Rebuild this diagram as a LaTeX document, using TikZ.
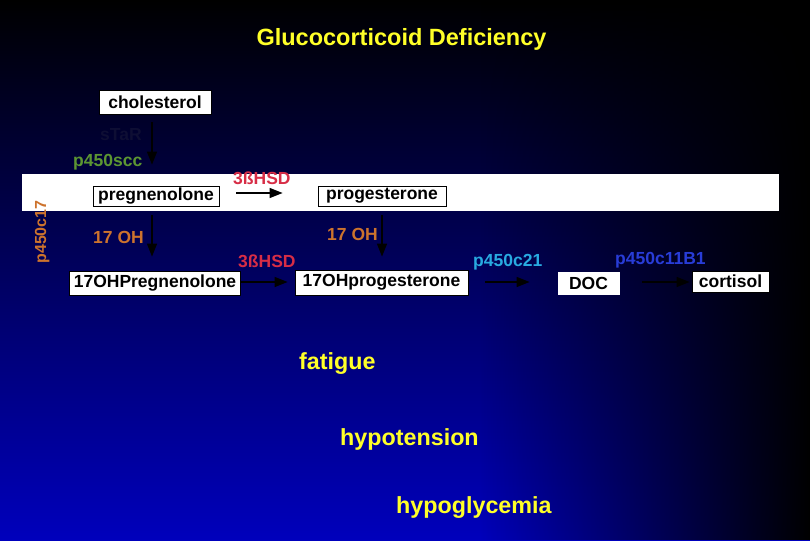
\documentclass[tikz,border=0pt]{standalone}
\usepackage{fontspec}
\setmainfont{Liberation Sans}
\usetikzlibrary{arrows.meta,fadings}
\definecolor{bgblue}{RGB}{0,0,188}
\definecolor{bgmid}{RGB}{0,0,140}
\definecolor{ttlyellow}{RGB}{255,255,40}
\definecolor{starcol}{RGB}{14,14,52}
\definecolor{scccol}{RGB}{92,150,50}
\definecolor{ohcol}{RGB}{205,115,45}
\definecolor{hsdcol}{RGB}{215,45,70}
\definecolor{c21col}{RGB}{40,170,225}
\definecolor{c11col}{RGB}{40,60,215}
\tikzfading[name=rightdark, left color=transparent!100, right color=transparent!0]
\tikzset{
  box/.style={draw=black, fill=white, line width=0.8pt, inner sep=0pt, font=\fontsize{17.5}{20}\selectfont\bfseries, text=black},
  lbl/.style={inner sep=0pt, anchor=base west, font=\fontsize{17.5}{20}\selectfont\bfseries},
  sym/.style={inner sep=0pt, anchor=base west, text=ttlyellow, font=\fontsize{23.3}{27}\selectfont\bfseries},
  arr/.style={line width=1.5pt, -{Triangle[length=13pt,width=10pt]}}
}
\begin{document}
\begin{tikzpicture}[x=1pt,y=-1pt]
\useasboundingbox (0,0) rectangle (810,540);
\shade[top color=black, middle color=bgmid, bottom color=bgblue] (0,0) rectangle (810,540);
\fill[black, path fading=rightdark] (480,0) rectangle (810,540);
\fill[white] (22,174) rectangle (779,211);
% title
\node[inner sep=0pt, text=ttlyellow, font=\fontsize{23.5}{26}\selectfont\bfseries] (title) at (401.5,39) {Glucocorticoid Deficiency};
% boxes
\node[box, minimum width=112pt, minimum height=24pt] (chol) at (155,102) {cholesterol};
\node[box, minimum width=126pt, minimum height=20pt] (preg) at (156,196) {pregnenolone};
\node[box, minimum width=128pt, minimum height=20pt] (prog) at (382,196) {progesterone};
\node[box, minimum width=171pt, minimum height=24pt] (ohpreg) at (155,283) {17OHPregnenolone};
\node[box, minimum width=173pt, minimum height=25pt] (ohprog) at (381.5,282.5) {17OHprogesterone};
\node[box, draw=white, minimum width=61pt, minimum height=22pt, text depth=-2pt] (doc) at (588.5,283) {DOC};
\node[box, minimum width=77pt, minimum height=21pt] (cort) at (730.5,281.5) {cortisol};
% labels
\node[lbl, text=starcol] (star) at (100,141) {sTaR};
\node[lbl, text=scccol] (scc) at (73,167) {p450scc};
\node[lbl, text=hsdcol] (hsd1) at (233,184) {3ßHSD};
\node[lbl, text=ohcol, anchor=base, rotate=90, font=\fontsize{16}{18}\selectfont\bfseries] (c17) at (46,232) {p450c17};
\node[lbl, text=ohcol] (oh1) at (93,243) {17 OH};
\node[lbl, text=ohcol] (oh2) at (327,240) {17 OH};
\node[lbl, text=hsdcol] (hsd2) at (238,267) {3ßHSD};
\node[lbl, text=c21col] (c21) at (473,266) {p450c21};
\node[lbl, text=c11col] (c11) at (615,264) {p450c11B1};
% arrows
\draw[arr, shorten <=8pt, shorten >=21pt] ([xshift=-3pt]chol.south) -- ([xshift=-4pt]preg.north);
\draw[arr, shorten <=9pt, shorten >=14pt] ([xshift=-4pt]preg.south) -- ([xshift=-3pt]ohpreg.north);
\draw[arr, shorten <=9pt, shorten >=13pt] (prog.south) -- ([xshift=0.5pt]ohprog.north);
\draw[arr, shorten <=17pt, shorten >=35pt] ([yshift=3pt]preg.east) -- ([yshift=3pt]prog.west);
\draw[arr, shorten <=0pt, shorten >=7pt] ([yshift=1pt]ohpreg.east) -- ([yshift=0.5pt]ohprog.west);
\draw[arr, shorten <=17pt, shorten >=28pt] ([yshift=0.5pt]ohprog.east) -- ([yshift=1pt]doc.west);
\draw[arr, shorten <=23pt, shorten >=2pt] ([yshift=1pt]doc.east) -- ([yshift=-0.5pt]cort.west);
% symptoms
\node[sym] (fat) at (299,369) {fatigue};
\node[sym] (hypot) at (340,445) {hypotension};
\node[sym] (hypog) at (396,513) {hypoglycemia};
\end{tikzpicture}
\end{document}
